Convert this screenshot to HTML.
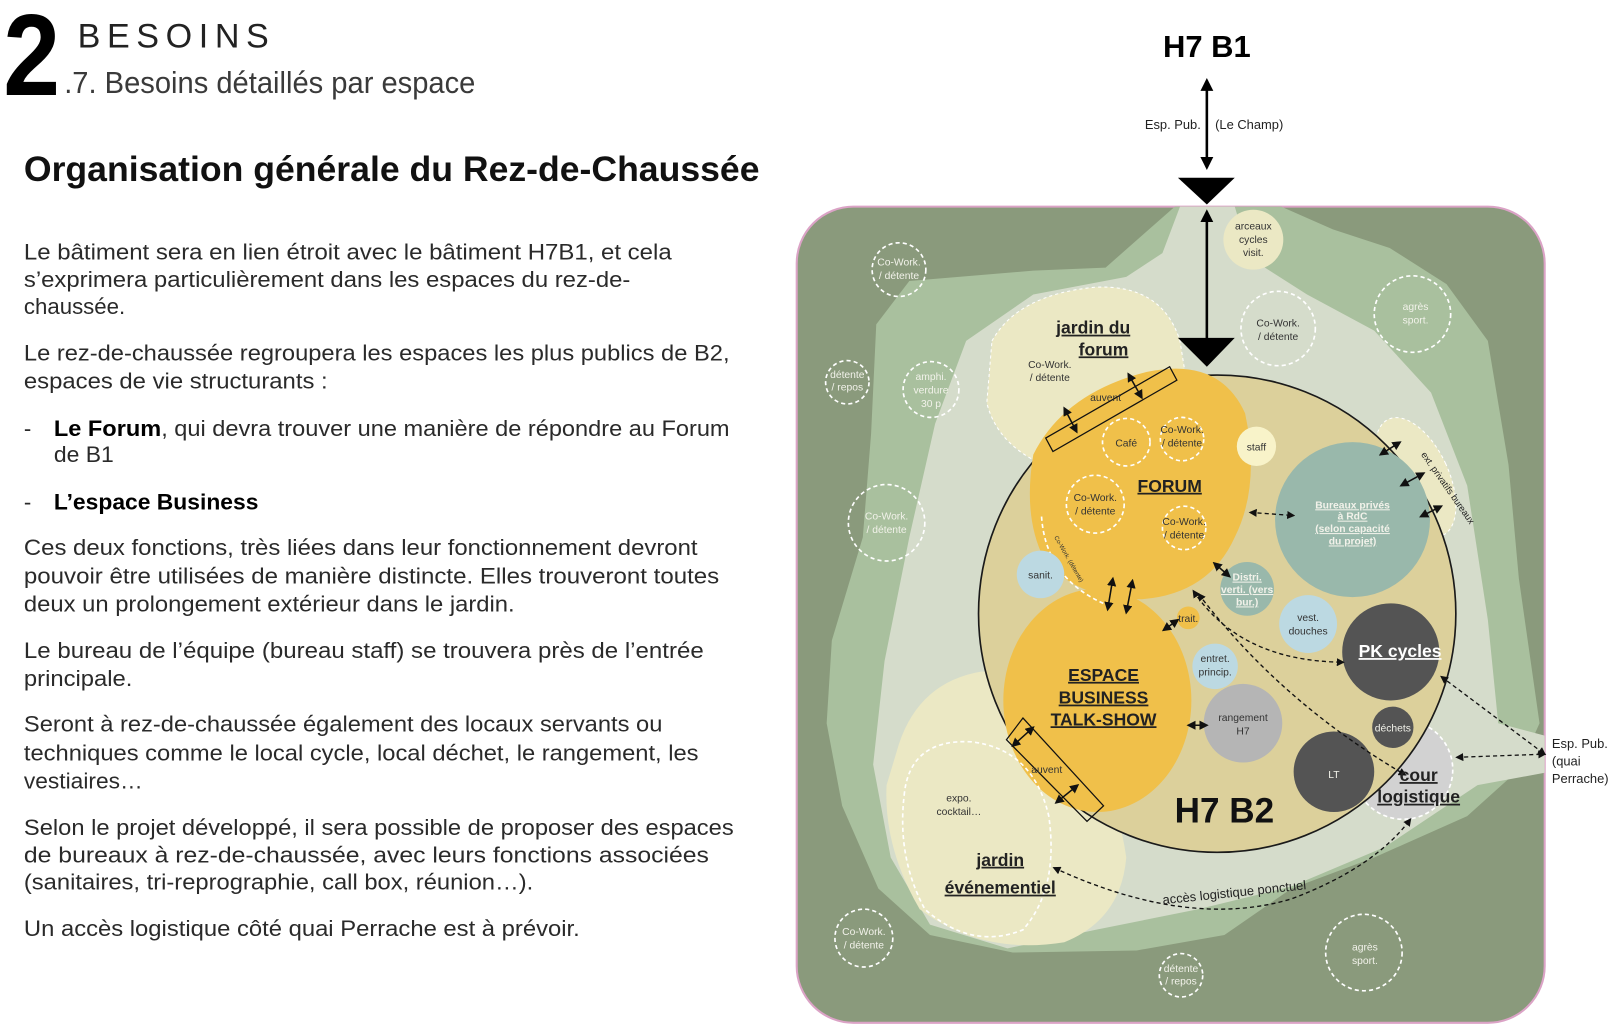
<!DOCTYPE html>
<html><head><meta charset="utf-8"><style>
html,body{margin:0;padding:0;background:#fff;}
svg{display:block}
text{font-family:"Liberation Sans",sans-serif;}
.b{font-size:21.5px;fill:#2a2a2a}
.w{fill:none;stroke:#fff;stroke-width:1.6;stroke-dasharray:4 3}
.sm{font-size:10px;fill:#333;text-anchor:middle}
.smw{font-size:10px;fill:#f2f2ea;text-anchor:middle}
.lb{font-weight:bold;text-decoration:underline;fill:#222;text-anchor:middle;font-size:17px}
.ar{stroke:#111;stroke-width:1.5;fill:none;marker-start:url(#ah);marker-end:url(#ah)}
.da{stroke:#111;stroke-width:1.3;fill:none;stroke-dasharray:4 3;marker-start:url(#ah);marker-end:url(#ah)}
</style></head><body>
<svg width="1612" height="1029" viewBox="0 0 1560 996" xmlns="http://www.w3.org/2000/svg">
<defs>
<marker id="ah" viewBox="0 0 10 10" refX="8" refY="5" markerWidth="6" markerHeight="6" orient="auto-start-reverse"><path d="M0,0L10,5L0,10z" fill="#111"/></marker>
<marker id="ahb" viewBox="0 0 10 10" refX="8" refY="5" markerWidth="5" markerHeight="5" orient="auto-start-reverse"><path d="M0,0L10,5L0,10z" fill="#000"/></marker>
</defs>
<text x="3" y="92" font-size="112" font-weight="bold" textLength="55" lengthAdjust="spacingAndGlyphs">2</text>
<text x="75" y="46" font-size="33" fill="#222" textLength="185" lengthAdjust="spacing">BESOINS</text>
<text x="62" y="90" font-size="30" fill="#3a3a3a" textLength="398" lengthAdjust="spacingAndGlyphs">.7. Besoins détaillés par espace</text>
<text x="23" y="175" font-size="34" font-weight="bold" fill="#111" textLength="712" lengthAdjust="spacingAndGlyphs">Organisation générale du Rez-de-Chaussée</text>
<g class="b">
<text x="23" y="251" textLength="627" lengthAdjust="spacingAndGlyphs">Le bâtiment sera en lien étroit avec le bâtiment H7B1, et cela</text>
<text x="23" y="278" textLength="587" lengthAdjust="spacingAndGlyphs">s’exprimera particulièrement dans les espaces du rez-de-</text>
<text x="23" y="304" textLength="98" lengthAdjust="spacingAndGlyphs">chaussée.</text>
<text x="23" y="349" textLength="683" lengthAdjust="spacingAndGlyphs">Le rez-de-chaussée regroupera les espaces les plus publics de B2,</text>
<text x="23" y="376" textLength="294" lengthAdjust="spacingAndGlyphs">espaces de vie structurants :</text>
<text x="23" y="422">-</text>
<text x="52" y="422" textLength="654" lengthAdjust="spacingAndGlyphs"><tspan font-weight="bold" fill="#000">Le Forum</tspan>, qui devra trouver une manière de répondre au Forum</text>
<text x="52" y="447" textLength="58" lengthAdjust="spacingAndGlyphs">de B1</text>
<text x="23" y="493">-</text>
<text x="52" y="493" font-weight="bold" fill="#000" textLength="198" lengthAdjust="spacingAndGlyphs">L’espace Business</text>
<text x="23" y="537" textLength="652" lengthAdjust="spacingAndGlyphs">Ces deux fonctions, très liées dans leur fonctionnement devront</text>
<text x="23" y="565" textLength="673" lengthAdjust="spacingAndGlyphs">pouvoir être utilisées de manière distincte. Elles trouveront toutes</text>
<text x="23" y="592" textLength="475" lengthAdjust="spacingAndGlyphs">deux un prolongement extérieur dans le jardin.</text>
<text x="23" y="637" textLength="658" lengthAdjust="spacingAndGlyphs">Le bureau de l’équipe (bureau staff) se trouvera près de l’entrée</text>
<text x="23" y="664" textLength="105" lengthAdjust="spacingAndGlyphs">principale.</text>
<text x="23" y="708" textLength="618" lengthAdjust="spacingAndGlyphs">Seront à rez-de-chaussée également des locaux servants ou</text>
<text x="23" y="736" textLength="653" lengthAdjust="spacingAndGlyphs">techniques comme le local cycle, local déchet, le rangement, les</text>
<text x="23" y="763" textLength="115" lengthAdjust="spacingAndGlyphs">vestiaires…</text>
<text x="23" y="808" textLength="687" lengthAdjust="spacingAndGlyphs">Selon le projet développé, il sera possible de proposer des espaces</text>
<text x="23" y="835" textLength="663" lengthAdjust="spacingAndGlyphs">de bureaux à rez-de-chaussée, avec leurs fonctions associées</text>
<text x="23" y="861" textLength="493" lengthAdjust="spacingAndGlyphs">(sanitaires, tri-reprographie, call box, réunion…).</text>
<text x="23" y="906" textLength="538" lengthAdjust="spacingAndGlyphs">Un accès logistique côté quai Perrache est à prévoir.</text>
</g>
<text x="1168" y="55" font-size="30" font-weight="bold" text-anchor="middle">H7 B1</text>
<line x1="1168" y1="78" x2="1168" y2="162" stroke="#000" stroke-width="2.5" marker-start="url(#ahb)" marker-end="url(#ahb)"/>
<text x="1108" y="125" font-size="12.5" fill="#222">Esp. Pub.</text>
<text x="1176" y="125" font-size="12.5" fill="#222">(Le Champ)</text>
<rect x="771" y="200" width="724" height="790" rx="55" fill="#8a9a7c" stroke="#dba3c6" stroke-width="2"/>
<path d="M1137,200 L1195,200 L1240,200 L1290,222 L1345,240 L1400,275 L1440,330 L1460,450 L1470,560 L1490,700 L1470,745 L1420,790 L1330,830 L1250,860 L1185,905 L1100,920 L980,922 L900,905 L850,860 L815,780 L800,700 L805,620 L835,520 L843,420 L848,314 L880,272 L1000,262 L1070,259 Z" fill="#a9c09e"/>
<path d="M1142,200 L1195,200 L1210,250 L1265,285 L1330,320 L1385,380 L1420,470 L1440,600 L1450,700 L1495,712 L1495,748 L1430,760 L1340,820 L1250,858 L1160,880 L1060,900 L975,918 L900,895 L862,830 L845,740 L856,640 L880,520 L905,410 L935,330 L1000,285 L1090,268 L1125,245 Z" fill="#d5dccb"/>
<path d="M960,330 Q985,285 1060,278 Q1125,275 1142,330 L1150,380 Q1080,420 1010,450 Q965,430 955,390 Z" fill="#ebe8c4" stroke="#fff" stroke-width="1" stroke-dasharray="3 3"/>
<path d="M870,720 Q890,660 950,650 Q1000,650 1040,700 Q1080,760 1090,830 Q1085,890 1030,912 Q950,925 890,880 Q855,820 858,760 Z" fill="#ebe8c4"/>
<ellipse cx="1370" cy="462" rx="32" ry="62" transform="rotate(-25 1370 462)" fill="#ebe8c4" stroke="#fff" stroke-dasharray="3 3"/>
<circle cx="1213" cy="232" r="29" fill="#ebe8c4"/>
<text class="sm" x="1213" y="222">arceaux</text><text class="sm" x="1213" y="235">cycles</text><text class="sm" x="1213" y="248">visit.</text>
<circle cx="1358" cy="745" r="48" fill="#d2d2d2" stroke="#fff" stroke-dasharray="4 3" stroke-width="1.6"/>
<circle cx="1178" cy="594" r="231" fill="#dcd09b" stroke="#1a1a1a" stroke-width="1.6"/>
<path d="M1000,440 Q1030,380 1110,360 Q1180,345 1205,400 Q1220,470 1195,520 Q1170,575 1105,580 Q1040,580 1010,540 Q990,500 1000,440Z" fill="#f0c04a"/>
<ellipse cx="1062" cy="678" rx="91" ry="108" fill="#f0c04a"/>
<path d="M1008,500 Q1012,560 1070,585" class="w"/>
<text x="1020" y="520" font-size="6" fill="#333" transform="rotate(60 1020 520)">Co-Work. (détente)</text>
<circle cx="1309" cy="503" r="75" fill="#99b8ab"/>
<text class="smw" font-weight="bold" text-decoration="underline" x="1309" y="492">Bureaux privés</text>
<text class="smw" font-weight="bold" text-decoration="underline" x="1309" y="503">à RdC</text>
<text class="smw" font-weight="bold" text-decoration="underline" x="1309" y="515">(selon capacité</text>
<text class="smw" font-weight="bold" text-decoration="underline" x="1309" y="527">du projet)</text>
<circle cx="1346" cy="631" r="47" fill="#545454"/>
<text x="1355" y="636" font-size="17" font-weight="bold" fill="#fff" text-anchor="middle" text-decoration="underline">PK cycles</text>
<circle cx="1291" cy="747" r="39" fill="#545454"/><text x="1291" y="753" class="smw">LT</text>
<circle cx="1348" cy="704" r="20" fill="#545454"/><text x="1348" y="708" class="smw">déchets</text>
<circle cx="1203" cy="700" r="38" fill="#b5b5b5"/><text class="sm" x="1203" y="698">rangement</text><text class="sm" x="1203" y="711">H7</text>
<circle cx="1266" cy="604" r="28" fill="#bcd9e2"/><text class="sm" x="1266" y="601">vest.</text><text class="sm" x="1266" y="614">douches</text>
<circle cx="1176" cy="645" r="22" fill="#bcd9e2"/><text class="sm" x="1176" y="641">entret.</text><text class="sm" x="1176" y="654">princip.</text>
<circle cx="1207" cy="570" r="26" fill="#99b8ab"/><text class="smw" font-weight="bold" text-decoration="underline" x="1207" y="562">Distri.</text><text class="smw" font-weight="bold" text-decoration="underline" x="1207" y="574">verti. (vers</text><text class="smw" font-weight="bold" text-decoration="underline" x="1207" y="586">bur.)</text>
<circle cx="1007" cy="556" r="23" fill="#bcd9e2"/><text class="sm" x="1007" y="560">sanit.</text>
<circle cx="1216" cy="432" r="19" fill="#f8f3c9"/><text class="sm" x="1216" y="436">staff</text>
<circle cx="1150" cy="598" r="11" fill="#f0c04a"/><text class="sm" x="1150" y="602">trait.</text>
<g>
<circle class="w" cx="870" cy="261" r="26"/><text class="smw" x="870" y="257">Co-Work.</text><text class="smw" x="870" y="270">/ détente</text>
<circle class="w" cx="1367" cy="304" r="37"/><text class="smw" x="1370" y="300">agrès</text><text class="smw" x="1370" y="313">sport.</text>
<circle class="w" cx="1237" cy="318" r="36"/><text class="sm" x="1237" y="316">Co-Work.</text><text class="sm" x="1237" y="329">/ détente</text>
<circle class="w" cx="820" cy="370" r="21"/><text class="smw" x="820" y="366">détente</text><text class="smw" x="820" y="378">/ repos</text>
<circle class="w" cx="901" cy="377" r="27"/><text class="smw" x="901" y="368">amphi.</text><text class="smw" x="901" y="381">verdure</text><text class="smw" x="901" y="394">30 p</text>
<circle class="w" cx="858" cy="506" r="37"/><text class="smw" x="858" y="503">Co-Work.</text><text class="smw" x="858" y="516">/ détente</text>
<circle class="w" cx="836" cy="908" r="28"/><text class="smw" x="836" y="905">Co-Work.</text><text class="smw" x="836" y="918">/ détente</text>
<circle class="w" cx="1143" cy="944" r="21"/><text class="smw" x="1143" y="941">détente</text><text class="smw" x="1143" y="953">/ repos</text>
<circle class="w" cx="1320" cy="922" r="37"/><text class="smw" x="1321" y="920">agrès</text><text class="smw" x="1321" y="933">sport.</text>
<circle class="w" cx="1090" cy="428" r="23"/><text class="sm" x="1090" y="432">Café</text>
<circle class="w" cx="1144" cy="425" r="21"/><text class="sm" x="1144" y="419">Co-Work.</text><text class="sm" x="1144" y="432">/ détente</text>
<circle class="w" cx="1060" cy="488" r="28"/><text class="sm" x="1060" y="485">Co-Work.</text><text class="sm" x="1060" y="498">/ détente</text>
<circle class="w" cx="1146" cy="511" r="21"/><text class="sm" x="1146" y="508">Co-Work.</text><text class="sm" x="1146" y="521">/ détente</text>
<path class="w" d="M875,770 Q880,715 940,718 Q1000,725 1015,790 Q1025,860 990,900 Q940,920 895,880 Q868,830 875,770Z"/>
</g>
<text class="sm" x="928" y="776">expo.</text><text class="sm" x="928" y="789">cocktail…</text>
<text class="sm" x="1016" y="356">Co-Work.</text><text class="sm" x="1016" y="369">/ détente</text>
<polygon points="1012,424 1132,355 1139,368 1019,437" fill="none" stroke="#111" stroke-width="1.2"/>
<text x="1070" y="388" class="sm">auvent</text>
<polygon points="974,716 990,695 1068,780 1052,795" fill="none" stroke="#111" stroke-width="1.2"/>
<text x="1013" y="748" class="sm">auvent</text>
<line x1="1168" y1="330" x2="1168" y2="205" stroke="#000" stroke-width="2.5" marker-end="url(#ahb)"/>
<polygon points="1140,172 1195,172 1168,198" fill="#000"/>
<polygon points="1140,327 1195,327 1168,355" fill="#000"/>
<g class="ar">
<line x1="1030" y1="395" x2="1042" y2="418"/>
<line x1="1092" y1="362" x2="1105" y2="385"/>
<line x1="980" y1="722" x2="1000" y2="704"/>
<line x1="1022" y1="777" x2="1043" y2="760"/>
<line x1="1077" y1="560" x2="1072" y2="590"/>
<line x1="1096" y1="562" x2="1090" y2="593"/>
<line x1="1175" y1="545" x2="1190" y2="558"/>
<line x1="1126" y1="610" x2="1140" y2="600"/>
<line x1="1150" y1="702" x2="1168" y2="702"/>
<line x1="1336" y1="440" x2="1355" y2="428"/>
<line x1="1356" y1="470" x2="1378" y2="458"/>
<line x1="1375" y1="500" x2="1395" y2="490"/>
</g>
<g class="da">
<line x1="1210" y1="496" x2="1252" y2="499"/>
<path d="M1155,572 Q1200,640 1300,641"/>
<path d="M1160,575 Q1240,680 1360,750"/>
<line x1="1395" y1="655" x2="1495" y2="730"/>
<line x1="1410" y1="733" x2="1495" y2="730"/>
<path d="M1020,840 Q1150,900 1250,870 Q1330,840 1365,793"/>
</g>
<text x="1195" y="868" font-size="12.5" fill="#222" text-anchor="middle" transform="rotate(-6 1195 868)">accès logistique ponctuel</text>
<text x="1375" y="440" font-size="9" fill="#222" transform="rotate(55 1375 440)">ext. privatifs bureaux</text>
<text x="1502" y="724" font-size="12.5" fill="#222">Esp. Pub.</text>
<text x="1502" y="741" font-size="12.5" fill="#222">(quai</text>
<text x="1502" y="758" font-size="12.5" fill="#222">Perrache)</text>
<text class="lb" x="1058" y="323">jardin du</text>
<text class="lb" x="1068" y="344">forum</text>
<text class="lb" x="1132" y="476">FORUM</text>
<text class="lb" x="1068" y="659">ESPACE</text>
<text class="lb" x="1068" y="681">BUSINESS</text>
<text class="lb" x="1068" y="702">TALK-SHOW</text>
<text class="lb" x="968" y="838">jardin</text>
<text class="lb" x="968" y="865">événementiel</text>
<text class="lb" x="1373" y="756">cour</text>
<text class="lb" x="1373" y="777">logistique</text>
<text x="1185" y="796" font-size="34" font-weight="bold" text-anchor="middle" fill="#111">H7 B2</text>
</svg>
</body></html>
